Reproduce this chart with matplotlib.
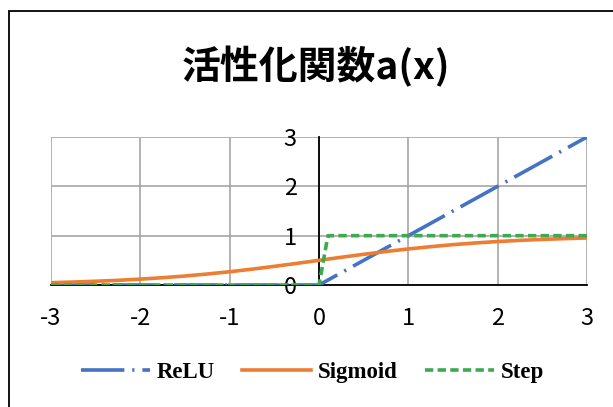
import matplotlib.pyplot as plt
from matplotlib.patches import Rectangle

# activation function samples
relu_x = [-3, 0, 3]
relu_y = [0, 0, 3]

sig_x = [-3, -2.75, -2.5, -2.25, -2, -1.75, -1.5, -1.25, -1, -0.75, -0.5, -0.25,
         0, 0.25, 0.5, 0.75, 1, 1.25, 1.5, 1.75, 2, 2.25, 2.5, 2.75, 3]
sig_y = [0.047, 0.060, 0.076, 0.095, 0.119, 0.148, 0.182, 0.223, 0.269, 0.321,
         0.378, 0.438, 0.500, 0.562, 0.622, 0.679, 0.731, 0.777, 0.818, 0.852,
         0.881, 0.905, 0.924, 0.940, 0.953]

step_x = [-3, 0, 0.1, 3]
step_y = [0, 0, 1, 1]

xticks = [-3, -2, -1, 0, 1, 2, 3]
yticks = [0, 1, 2, 3]

BLUE = '#4472C4'
ORANGE = '#ED7D31'
GREEN = '#3DAA4F'

plt.rcParams['font.family'] = ['Noto Sans CJK JP', 'DejaVu Sans']
plt.rcParams['axes.unicode_minus'] = False

fig = plt.figure(figsize=[6.13, 4.07], dpi=100)
ax = fig.add_axes([51 / 613, 1 - 285 / 407, 536 / 613, 148 / 407])

# chart border
fig.patches.append(Rectangle((9 / 613, -0.1), 1.2, 1 - 11 / 407 + 0.1,
                             transform=fig.transFigure, fill=False,
                             edgecolor='black', linewidth=1.3))

ax.plot(relu_x, relu_y, color=BLUE, linewidth=2.6, dashes=(12, 2.2, 0.6, 2.2),
        label='ReLU', zorder=3)
ax.plot(sig_x, sig_y, color=ORANGE, linewidth=2.6, label='Sigmoid', zorder=3)
ax.plot(step_x, step_y, color=GREEN, linewidth=2.6, dashes=(2.3, 1.2),
        label='Step', zorder=4)

ax.set_xlim(-3, 3)
ax.set_ylim(0, 3)
ax.set_xticks(xticks)
ax.set_yticks(yticks)
ax.grid(True, color='#A6A6A6', linewidth=1.2)
ax.set_axisbelow(True)

ax.spines['left'].set_position(('data', 0))
ax.spines['left'].set_color('black')
ax.spines['left'].set_linewidth(1.3)
ax.spines['bottom'].set_linewidth(1.3)
ax.spines['top'].set_visible(False)
ax.spines['right'].set_visible(False)

ax.tick_params(axis='both', length=0, labelsize=17)
ax.tick_params(axis='x', pad=16)
ax.tick_params(axis='y', pad=16)

fig.text(0.515, 1 - 67 / 407, '活性化関数a(x)', ha='center', va='center',
         fontsize=28, fontweight='bold')

leg = fig.legend(loc='center', bbox_to_anchor=(0.51, 1 - 372 / 407), ncol=3,
                 frameon=False, handlelength=3.0, columnspacing=1.2,
                 handletextpad=0.3,
                 prop={'family': 'Liberation Serif', 'weight': 'bold', 'size': 16.5})

fig.savefig('out.png', dpi=100)
